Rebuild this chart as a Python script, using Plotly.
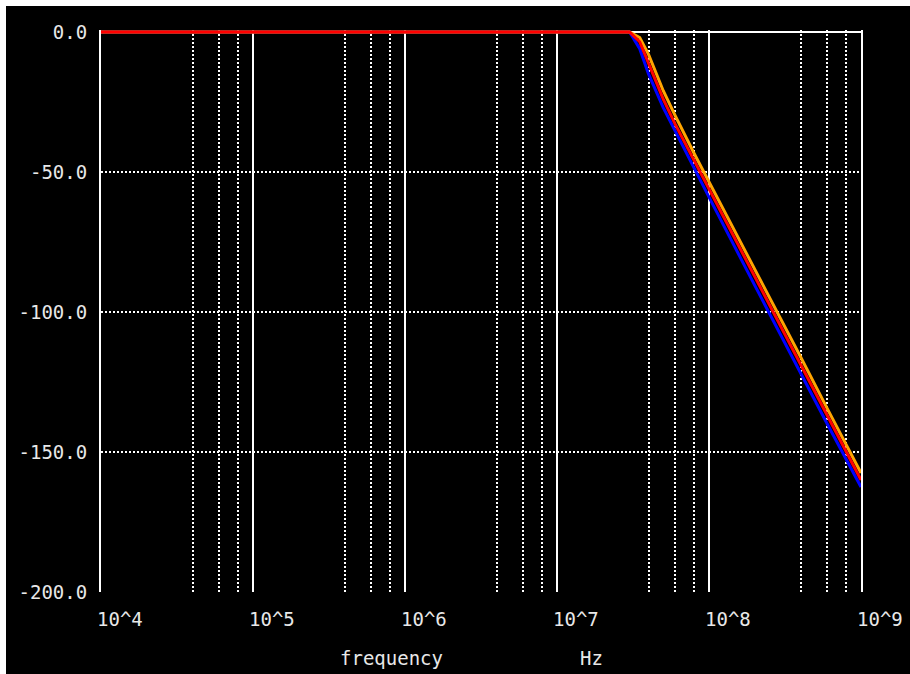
import plotly.graph_objects as go

# ---- data ----
freq_hz = [1e4, 1e5, 1e6, 1e7, 3.0e7, 3.5e7, 4e7, 5e7, 6e7, 8e7, 1e8, 2e8, 4e8, 6e8, 1e9]
mag_blue = [0, 0, 0, 0, 0, -6.0, -15.0, -27.0, -35.5, -49.0, -59.0, -90.5, -122.0, -140.0, -162.5]
mag_orange = [0, 0, 0, 0, 0, -2.0, -8.0, -21.0, -30.0, -43.5, -53.5, -85.0, -116.0, -134.5, -157.5]
mag_red = [0, 0, 0, 0, 0, -3.5, -11.0, -24.0, -33.0, -46.0, -56.0, -87.5, -119.0, -137.0, -160.0]

x_tick_vals = [1e4, 1e5, 1e6, 1e7, 1e8, 1e9]
x_tick_text = ["10^4", "10^5", "10^6", "10^7", "10^8", "10^9"]
x_minor_mult = [4, 6, 8]
y_tick_vals = [0, -50, -100, -150, -200]
y_tick_text = ["0.0", "-50.0", "-100.0", "-150.0", "-200.0"]

series = [
    ("blue", mag_blue, "#0000ff"),
    ("orange", mag_orange, "#ffa500"),
    ("red", mag_red, "#ff0000"),
]

FONT = "DejaVu Sans Mono"
TXT = "#e8e8e8"
FS = 19

fig = go.Figure()
for name, vals, col in series:
    fig.add_trace(go.Scatter(x=freq_hz, y=vals, mode="lines", name=name,
                             line=dict(color=col, width=3), showlegend=False))

minor_vals = [d * m for d in x_tick_vals[:-1] for m in x_minor_mult]

fig.update_layout(
    width=904, height=668,
    paper_bgcolor="black", plot_bgcolor="black",
    margin=dict(l=95, r=49, t=24, b=82, autoexpand=False),
    showlegend=False,
    font=dict(family=FONT, color=TXT, size=FS),
)

fig.update_xaxes(
    type="log", range=[4, 9], automargin=False,
    tickvals=x_tick_vals, ticktext=x_tick_text,
    showgrid=True, gridcolor="white", gridwidth=2,
    ticks="", zeroline=False, showline=False,
    ticklabelposition="outside right", ticklabelstandoff=14, ticklabelshift=-4,
    tickfont=dict(family=FONT, size=FS, color=TXT),
    minor=dict(tickvals=minor_vals, showgrid=True, gridcolor="white",
               gridwidth=2, griddash="2px,2px", ticks=""),
)

fig.update_yaxes(
    range=[-200, 0.7], automargin=False,
    tickvals=y_tick_vals, ticktext=y_tick_text,
    showgrid=True, gridcolor="white", gridwidth=2, griddash="2px,2px",
    ticks="", zeroline=False,
    showline=True, mirror=True, linecolor="white", linewidth=2,
    ticklabelstandoff=8,
    tickfont=dict(family=FONT, size=FS, color=TXT),
)

# solid top frame line
fig.add_shape(type="line", xref="paper", yref="y", x0=0, x1=1, y0=0, y1=0,
              line=dict(color="white", width=2), layer="below")

fig.add_annotation(text="frequency", xref="paper", yref="paper",
                   x=(391 - 101) / 760, y=-(658 - 592) / 562,
                   showarrow=False, xanchor="center", yanchor="middle",
                   font=dict(family=FONT, size=FS, color=TXT))
fig.add_annotation(text="Hz", xref="paper", yref="paper",
                   x=(591 - 101) / 760, y=-(658 - 592) / 562,
                   showarrow=False, xanchor="center", yanchor="middle",
                   font=dict(family=FONT, size=FS, color=TXT))

fig.write_html(
    "out.html",
    post_script="document.body.style.margin='6px 0 0 6px';"
                "document.body.style.overflow='hidden';",
)
